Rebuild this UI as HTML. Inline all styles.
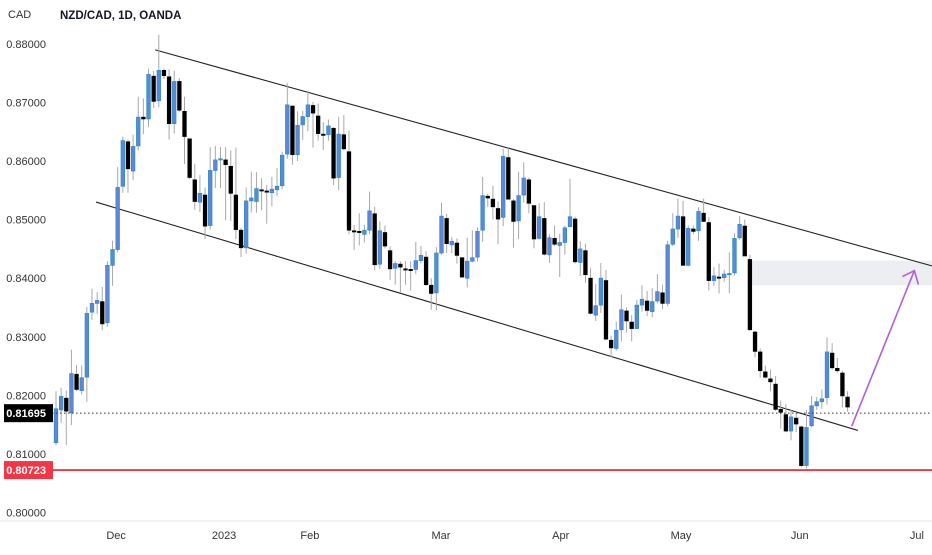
<!DOCTYPE html>
<html><head><meta charset="utf-8"><style>
body{margin:0;background:#fff;}
svg text{font-family:"Liberation Sans",sans-serif;}
</style></head><body>
<svg id="chart" width="932" height="550" viewBox="0 0 932 550" xmlns="http://www.w3.org/2000/svg">
<rect x="0" y="0" width="932" height="550" fill="#fff"/>
<text x="8" y="18" font-size="11" fill="#333">CAD</text>
<text x="60" y="19" font-size="11.5" font-weight="bold" fill="#131722">NZD/CAD, 1D, OANDA</text>
<line x1="0" y1="521" x2="932" y2="521" stroke="#e0e3eb"/>
<g id="yticks"></g>
<g id="xticks"></g>
<g id="zone"></g>
<g id="lines"></g>
<g id="candles"></g>
<g id="overlay"></g>
</svg>
<script>
const opens=[.8119,.8175,.8195,.8170,.8236,.8208,.8231,.8342,.8357,.8360,.8324,.8422,.8449,.8557,.8633,.8583,.8626,.8675,.8672,.8745,.8703,.8755,.8744,.8664,.8736,.8685,.8638,.8568,.8530,.8542,.8490,.8584,.8602,.8602,.8591,.8542,.8482,.8452,.8532,.8531,
.8551,.8549,.8546,.8551,.8558,.8612,.8694,.8611,.8662,.8676,.8695,.8677,.8646,.8645,.8656,.8572,.8645,.8616,.8481,.8480,.8475,.8482,.8510,.8424,.8478,.8447,.8417,.8424,.8416,.8415,.8415,.8430,.8436,.8388,.8375,.8443,.8502,.8457,.8460,
.8435,.8400,.8429,.8436,.8482,.8540,.8535,.8519,.8504,.8606,.8532,.8498,.8542,.8568,.8524,.8468,.8502,.8440,.8468,.8456,.8461,.8488,.8501,.8427,.8447,.8400,.8337,.8354,.8396,.8294,.8280,.8312,.8344,.8325,.8314,.8354,.8361,.8343,.8361,.8375,
.8357,.8458,.8484,.8505,.8422,.8484,.8481,.8511,.8495,.8396,.8402,.8401,.8407,.8409,.8469,.8489,.8432,.8308,.8274,.8240,.8228,.8219,.8176,.8167,.8139,.8161,.8146,.8080,.8148,.8182,.8189,.8196,.8272,.8246,.8238,.8197];
const highs=[.8207,.8213,.8208,.8278,.8252,.8251,.8351,.8382,.8376,.8385,.8429,.8464,.8590,.8642,.8637,.8645,.8710,.8707,.8758,.8754,.8816,.8758,.8757,.8754,.8742,.8710,.8638,.8595,.8576,.8555,.8624,.8626,.8624,.8624,.8618,.8623,.8486,.8555,.8582,.8581,
.8571,.8559,.8573,.8588,.8616,.8733,.8694,.8685,.8686,.8720,.8701,.8698,.8667,.8671,.8658,.8676,.8679,.8652,.8491,.8511,.8491,.8548,.8522,.8497,.8490,.8454,.8429,.8429,.8429,.8429,.8462,.8455,.8446,.8400,.8453,.8529,.8510,.8470,.8468,
.8435,.8469,.8482,.8487,.8573,.8544,.8558,.8531,.8621,.8624,.8535,.8582,.8598,.8572,.8524,.8528,.8530,.8475,.8490,.8476,.8490,.8570,.8505,.8463,.8459,.8417,.8390,.8426,.8414,.8302,.8326,.8372,.8350,.8337,.8363,.8388,.8378,.8383,.8407,.8389,
.8464,.8511,.8536,.8532,.8490,.8490,.8521,.8536,.8504,.8419,.8425,.8414,.8444,.8477,.8506,.8500,.8440,.8310,.8280,.8251,.8244,.8233,.8191,.8185,.8175,.8172,.8148,.8175,.8199,.8197,.8210,.8299,.8289,.8264,.8242,.8207];
const lows=[.8114,.8153,.8115,.8149,.8207,.8201,.8189,.8329,.8339,.8311,.8317,.8387,.8444,.8546,.8546,.8568,.8618,.8646,.8658,.8691,.8692,.8740,.8637,.8647,.8683,.8595,.8569,.8517,.8513,.8467,.8483,.8554,.8554,.8499,.8498,.8467,.8436,.8442,.8512,.8512,
.8516,.8493,.8523,.8540,.8552,.8604,.8594,.8600,.8636,.8651,.8623,.8635,.8619,.8635,.8559,.8550,.8618,.8475,.8448,.8456,.8461,.8475,.8413,.8416,.8451,.8397,.8389,.8376,.8389,.8379,.8407,.8425,.8387,.8346,.8345,.8440,.8443,.8443,.8425,
.8400,.8384,.8427,.8428,.8462,.8522,.8500,.8458,.8489,.8535,.8452,.8467,.8529,.8511,.8451,.8466,.8439,.8426,.8455,.8402,.8440,.8487,.8425,.8404,.8392,.8338,.8327,.8341,.8294,.8265,.8276,.8292,.8307,.8292,.8313,.8343,.8335,.8333,.8357,.8347,
.8352,.8455,.8469,.8422,.8420,.8475,.8464,.8496,.8379,.8387,.8374,.8394,.8374,.8405,.8466,.8438,.8310,.8265,.8230,.8229,.8207,.8173,.8143,.8137,.8123,.8137,.8078,.8075,.8145,.8175,.8177,.8184,.8244,.8239,.8179,.8172];
const closes=[.8177,.8198,.8173,.8237,.8210,.8230,.8340,.8357,.8362,.8322,.8422,.8449,.8555,.8635,.8587,.8625,.8675,.8672,.8748,.8702,.8755,.8746,.8664,.8736,.8687,.8642,.8572,.8531,.8545,.8489,.8584,.8602,.8604,.8594,.8545,.8483,.8452,.8532,.8537,.8553,
.8549,.8547,.8552,.8557,.8610,.8696,.8611,.8661,.8676,.8696,.8682,.8647,.8645,.8660,.8571,.8646,.8621,.8482,.8479,.8478,.8482,.8515,.8423,.8481,.8455,.8416,.8425,.8419,.8415,.8414,.8430,.8439,.8389,.8374,.8443,.8506,.8459,.8463,.8439,
.8402,.8429,.8435,.8480,.8541,.8537,.8522,.8501,.8608,.8535,.8497,.8541,.8571,.8528,.8467,.8505,.8441,.8469,.8458,.8461,.8486,.8505,.8428,.8450,.8406,.8340,.8353,.8400,.8296,.8281,.8311,.8346,.8327,.8314,.8354,.8364,.8345,.8360,.8377,.8357,
.8457,.8484,.8506,.8422,.8485,.8480,.8514,.8497,.8396,.8404,.8401,.8407,.8408,.8468,.8492,.8438,.8312,.8275,.8242,.8231,.8223,.8176,.8171,.8139,.8163,.8151,.8080,.8145,.8182,.8189,.8194,.8274,.8247,.8242,.8199,.8180];
const yTicks=[0.88,0.87,0.86,0.85,0.84,0.83,0.82,0.81,0.80];
const yTickLabels=["0.88000","0.87000","0.86000","0.85000","0.84000","0.83000","0.82000","0.81000","0.80000"];
const xTickIdx=[11.7,32.7,49.4,74.9,98.2,121.6,144.7,167.5];
const xTickLabels=["Dec","2023","Feb","Mar","Apr","May","Jun","Jul"];
const lastPrice=0.81695, supportPrice=0.80723;
const upperChannel=[[19.3,0.8790],[170.4,0.8421]];
const lowerChannel=[[7.8,0.8530],[156.0,0.8140]];
const arrowPts=[[154.8,0.8147],[167.0,0.8413]];
const zonePrices=[0.8430,0.8388]; const zoneStartIdx=135;

const NS="http://www.w3.org/2000/svg";
const X=i=>56+i*5.14;
const Y=p=>44+(0.88-p)*5855;
function mk(tag,attrs,parent){const e=document.createElementNS(NS,tag);for(const k in attrs)e.setAttribute(k,attrs[k]);document.getElementById(parent).appendChild(e);return e;}

yTicks.forEach((p,i)=>{const t=mk('text',{x:46,y:Y(p)+4,'font-size':11,'text-anchor':'end',fill:'#333'},'yticks');


t.textContent=yTickLabels[i];});
xTickIdx.forEach((ix,i)=>{const t=mk('text',{x:X(ix),y:539,'font-size':11,'text-anchor':'middle',fill:'#333'},'xticks');


t.textContent=xTickLabels[i];});

const z=mk('rect',{x:X(zoneStartIdx),y:Y(zonePrices[0]),width:932-X(zoneStartIdx),height:Y(zonePrices[1])-Y(zonePrices[0]),fill:'#eceef1'},'zone');



[upperChannel,lowerChannel].forEach((l,k)=>{const e=mk('line',{x1:X(l[0][0]),y1:Y(l[0][1]),x2:X(l[1][0]),y2:Y(l[1][1]),stroke:'#222','stroke-width':1.1},'lines');

});

for(let i=0;i<opens.length;i++){
  const up=closes[i]>=opens[i];const x=X(i);
  const w=mk('line',{x1:x,x2:x,y1:Y(highs[i]),y2:Y(lows[i]),stroke:'#a8a8a8','stroke-width':1},'candles');
  
  
  const top=Y(Math.max(opens[i],closes[i])),bot=Y(Math.min(opens[i],closes[i]));
  const b=mk('rect',{x:x-1.8,y:top,width:3.6,height:Math.max(1.2,bot-top),fill:up?'#5f87d6':'#000',stroke:up?'#2a8cc4':'#000','stroke-width':0.7},'candles');
  
  
}

const dl=mk('line',{x1:52,x2:932,y1:Y(lastPrice),y2:Y(lastPrice),stroke:'#333','stroke-width':1,'stroke-dasharray':'1.5,2.5'},'overlay');


const rl=mk('line',{x1:52,x2:932,y1:Y(supportPrice),y2:Y(supportPrice),stroke:'#f23645','stroke-width':1.8},'overlay');


const [a0,a1]=arrowPts;const ax0=X(a0[0]),ay0=Y(a0[1]),ax1=X(a1[0]),ay1=Y(a1[1]);
const ar=mk('line',{x1:ax0,y1:ay0,x2:ax1,y2:ay1,stroke:'#b15fd6','stroke-width':1.6},'overlay');


const ah=mk('polyline',{points:`${ax1-12},${ay1+6} ${ax1},${ay1} ${ax1+4},${ay1+14}`,fill:'none',stroke:'#b15fd6','stroke-width':1.6},'overlay');



[[lastPrice,'#000'],[supportPrice,'#f23645']].forEach(([p,c],k)=>{
  const r=mk('rect',{x:4,y:Y(p)-9,width:49,height:18,fill:c},'overlay');
  
  
  const t=mk('text',{x:46,y:Y(p)+4,'font-size':11,'font-weight':'bold','text-anchor':'end',fill:'#fff'},'overlay');
  
  
  t.textContent=p.toFixed(5);
});
</script>
</body></html>
